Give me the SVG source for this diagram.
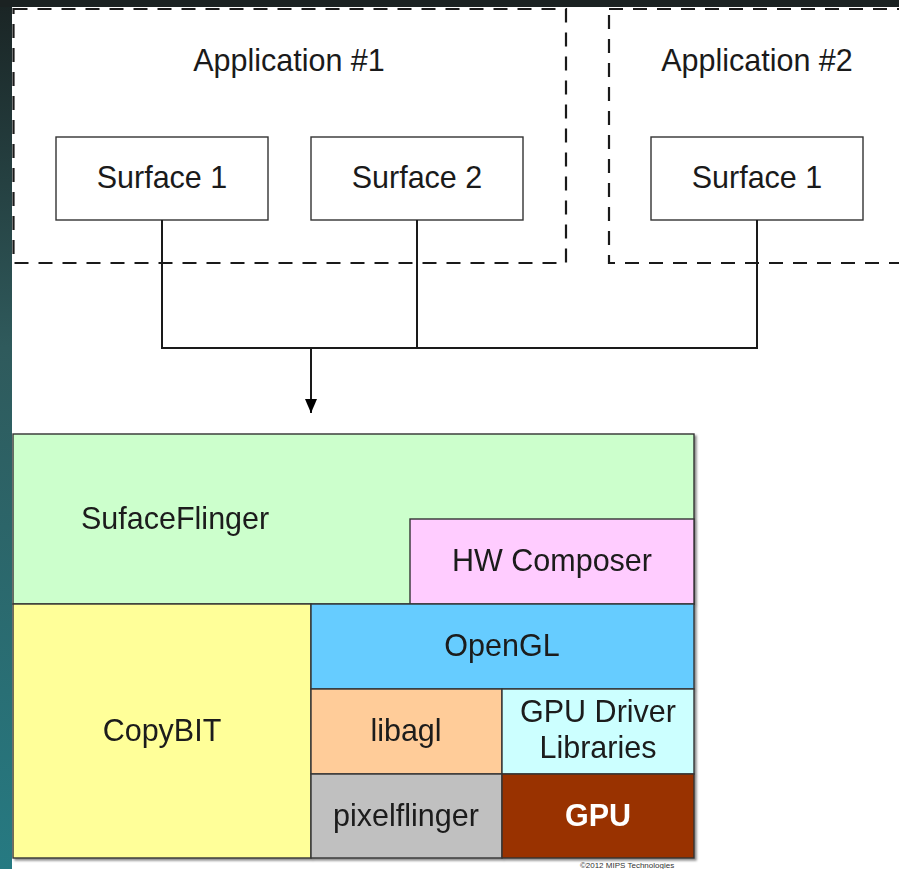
<svg xmlns="http://www.w3.org/2000/svg" width="899" height="869" viewBox="0 0 899 869">
  <defs>
    <linearGradient id="bandL" x1="0" y1="0" x2="0" y2="1">
      <stop offset="0" stop-color="#1a2424"/>
      <stop offset="0.4" stop-color="#2f5a5c"/>
      <stop offset="1" stop-color="#267a82"/>
    </linearGradient>
    <marker id="arrow" viewBox="0 0 14 12" refX="14" refY="6" markerWidth="14" markerHeight="12" markerUnits="userSpaceOnUse" orient="auto">
      <path d="M0,0 L14,6 L0,12 z" fill="#000"/>
    </marker>
    <filter id="sh" x="-5%" y="-5%" width="110%" height="110%">
      <feDropShadow dx="2" dy="2" stdDeviation="1" flood-color="#000" flood-opacity="0.45"/>
    </filter>
  </defs>
  <style>
    .t { font-family: "Liberation Sans", Arial, sans-serif; font-size: 30.5px; fill: #1a1a1a; text-anchor: middle; }
    .dash { fill: none; stroke: #1a1a1a; stroke-width: 2.2; stroke-dasharray: 14 10; }
    .surf { fill: #fff; stroke: #333; stroke-width: 1.4; }
    .blk { stroke: #333; stroke-width: 1.4; }
    .conn { fill: none; stroke: #1a1a1a; stroke-width: 2; }
  </style>
  <rect x="0" y="0" width="899" height="869" fill="url(#bandL)"/>
  <rect x="0" y="0" width="899" height="7" fill="#1b2222"/>
  <rect x="12" y="7" width="887" height="862" fill="#fff"/>

  <g id="app1">
    <rect class="dash" x="13.5" y="9" width="552.5" height="254"/>
    <text class="t" x="289" y="71">Application #1</text>
  </g>
  <g id="app2">
    <rect class="dash" x="609" y="9" width="320" height="254"/>
    <text class="t" x="757" y="71">Application #2</text>
  </g>
  <g id="surface1">
    <rect class="surf" x="56" y="137" width="212" height="83"/>
    <text class="t" x="162" y="188">Surface 1</text>
  </g>
  <g id="surface2">
    <rect class="surf" x="311" y="137" width="212" height="83"/>
    <text class="t" x="417" y="188">Surface 2</text>
  </g>
  <g id="surface1b">
    <rect class="surf" x="651" y="137" width="212" height="83"/>
    <text class="t" x="757" y="188">Surface 1</text>
  </g>

  <g id="connectors">
    <polyline class="conn" points="162,220 162,348 757,348 757,220"/>
    <line class="conn" x1="417" y1="220" x2="417" y2="348"/>
    <line class="conn" x1="311" y1="348" x2="311" y2="413" marker-end="url(#arrow)"/>
  </g>

  <g id="stack" filter="url(#sh)">
    <g id="surfaceflinger">
      <rect class="blk" x="13" y="434" width="681" height="170" fill="#ccffcc"/>
      <text class="t" x="81" y="529" style="text-anchor:start">SufaceFlinger</text>
    </g>
    <g id="hwcomposer">
      <rect class="blk" x="410" y="519" width="284" height="85" fill="#ffccff"/>
      <text class="t" x="552" y="571">HW Composer</text>
    </g>
    <g id="copybit">
      <rect class="blk" x="13" y="604" width="298" height="254" fill="#ffff99"/>
      <text class="t" x="162" y="741">CopyBIT</text>
    </g>
    <g id="opengl">
      <rect class="blk" x="311" y="604" width="383" height="85" fill="#66ccff"/>
      <text class="t" x="502" y="656">OpenGL</text>
    </g>
    <g id="libagl">
      <rect class="blk" x="311" y="689" width="191" height="85" fill="#ffcc99"/>
      <text class="t" x="406" y="741">libagl</text>
    </g>
    <g id="gpudriver">
      <rect class="blk" x="502" y="689" width="192" height="85" fill="#ccffff"/>
      <text class="t" x="598" y="722">GPU Driver</text>
      <text class="t" x="598" y="758">Libraries</text>
    </g>
    <g id="pixelflinger">
      <rect class="blk" x="311" y="774" width="191" height="84" fill="#c0c0c0"/>
      <text class="t" x="406" y="826">pixelflinger</text>
    </g>
    <g id="gpu">
      <rect class="blk" x="502" y="774" width="192" height="84" fill="#993300"/>
      <text class="t" x="598" y="826" style="fill:#fff;font-weight:bold">GPU</text>
    </g>
  </g>
  <text x="627" y="868" style="font-family:'Liberation Sans',Arial,sans-serif;font-size:8px;fill:#333;text-anchor:middle">©2012 MIPS Technologies</text>
</svg>
